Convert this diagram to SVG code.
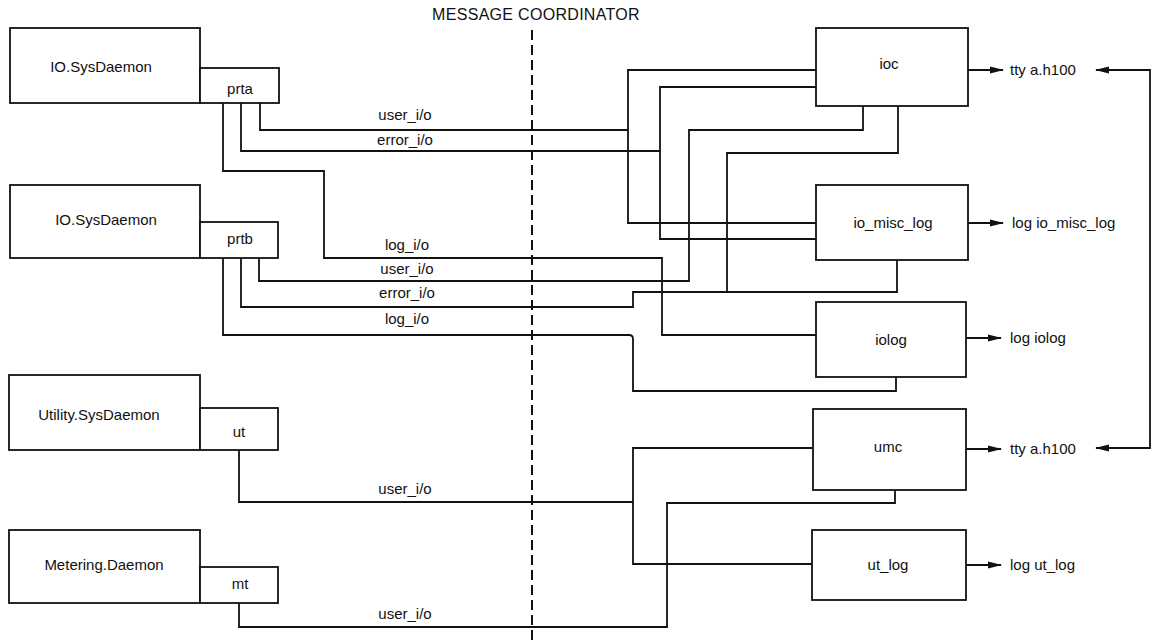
<svg xmlns="http://www.w3.org/2000/svg" width="1157" height="643" viewBox="0 0 1157 643">
<style>
text{font-family:"Liberation Sans",Arial,sans-serif;font-size:15px;fill:#111}
.c{text-anchor:middle}
.t{font-size:16px;letter-spacing:0.3px}
.box{fill:#fff;stroke:#111;stroke-width:1.8}
.w{fill:none;stroke:#111;stroke-width:1.8;stroke-linejoin:miter}
.a{fill:none;stroke:#111;stroke-width:1.8;marker-end:url(#ah)}
</style>
<defs>
<marker id="ah" markerWidth="14" markerHeight="8" refX="13" refY="4" orient="auto" markerUnits="userSpaceOnUse">
<path d="M0,0.5 L14,4 L0,7.5 Z" fill="#111"/>
</marker>
</defs>
<rect width="1157" height="643" fill="#fff"/>
<text class="c t" x="536" y="20">MESSAGE COORDINATOR</text>
<line x1="532" y1="30" x2="532" y2="643" stroke="#111" stroke-width="2" stroke-dasharray="10,5"/>

<g id="io1">
<rect class="box" x="10" y="28" width="190" height="75"/>
<text class="c" x="101" y="72">IO.SysDaemon</text>
<rect class="box" x="200" y="68" width="79" height="35"/>
<text class="c" x="240" y="94">prta</text>
</g>
<g id="io2">
<rect class="box" x="10" y="185" width="190" height="73"/>
<text class="c" x="106" y="225">IO.SysDaemon</text>
<rect class="box" x="200" y="222" width="78" height="36"/>
<text class="c" x="240" y="244">prtb</text>
</g>
<g id="utility">
<rect class="box" x="9" y="375" width="191" height="75"/>
<text class="c" x="99" y="420">Utility.SysDaemon</text>
<rect class="box" x="200" y="408" width="78" height="42"/>
<text class="c" x="239" y="437">ut</text>
</g>
<g id="metering">
<rect class="box" x="9" y="530" width="191" height="73"/>
<text class="c" x="104" y="570">Metering.Daemon</text>
<rect class="box" x="200" y="567" width="78" height="36"/>
<text class="c" x="240" y="589">mt</text>
</g>

<g id="ioc">
<rect class="box" x="816" y="28" width="152" height="78"/>
<text class="c" x="889" y="69">ioc</text>
</g>
<g id="io_misc_log">
<rect class="box" x="816" y="185" width="152" height="75"/>
<text class="c" x="893" y="228">io_misc_log</text>
</g>
<g id="iolog">
<rect class="box" x="816" y="302" width="150" height="75"/>
<text class="c" x="891" y="345">iolog</text>
</g>
<g id="umc">
<rect class="box" x="813" y="409" width="153" height="81"/>
<text class="c" x="888" y="452">umc</text>
</g>
<g id="ut_log">
<rect class="box" x="812" y="530" width="154" height="70"/>
<text class="c" x="888" y="570">ut_log</text>
</g>

<g id="outputs">
<text x="1010" y="75">tty a.h100</text>
<text x="1012" y="228">log io_misc_log</text>
<text x="1010" y="343">log iolog</text>
<text x="1010" y="454">tty a.h100</text>
<text x="1010" y="570">log ut_log</text>
</g>

<g id="connectors">
<path class="w" d="M260,103 V130 H628"/>
<path class="w" d="M816,70 H628 V223 H816"/>
<path class="w" d="M241,103 V151 H660"/>
<path class="w" d="M816,87 H660 V239 H816"/>
<path class="w" d="M223,103 V171 H324 V258 H662 V335 H816"/>
<path class="w" d="M259,258 V281 H689 V130 H863 V106"/>
<path class="w" d="M241,258 V307 H633 V292 H897 V260"/>
<path class="w" d="M727,292 V153 H898 V106"/>
<path class="w" d="M223,258 V335 H629 Q633,335 633,339 V391 H896 V377"/>
<path class="w" d="M239,450 V502 H633"/>
<path class="w" d="M813,448 H633 V564 H812"/>
<path class="w" d="M239,603 V627 H667 V503 H895 V490"/>
<path class="a" d="M968,70 H1003"/>
<path class="a" d="M968,223 H1003"/>
<path class="a" d="M966,338 H1001"/>
<path class="a" d="M966,449 H1001"/>
<path class="a" d="M966,565 H1001"/>
<path class="w" d="M1097,70 H1150 V448 H1097"/>
<path class="a" d="M1150,70 H1096"/>
<path class="a" d="M1150,448 H1096"/>
<text class="c" x="405" y="120">user_i/o</text>
<text class="c" x="405" y="145">error_i/o</text>
<text class="c" x="407" y="250">log_i/o</text>
<text class="c" x="407" y="274">user_i/o</text>
<text class="c" x="407" y="298">error_i/o</text>
<text class="c" x="407" y="324">log_i/o</text>
<text class="c" x="405" y="494">user_i/o</text>
<text class="c" x="405" y="619">user_i/o</text>
</g>
</svg>
